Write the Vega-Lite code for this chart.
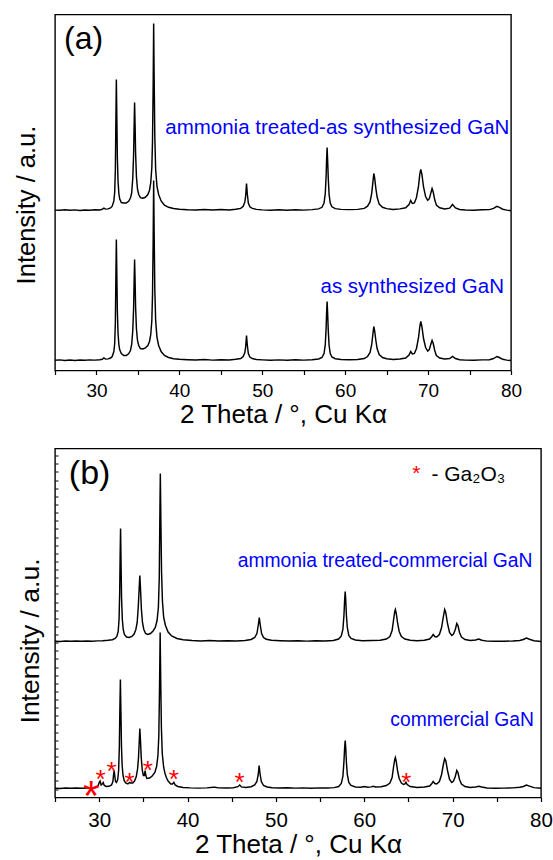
{
"$schema": "https://vega.github.io/schema/vega-lite/v6.json",
"autosize": {"type": "pad"},
"padding": {"left": 13, "top": 13.5, "right": 5, "bottom": 2},
"background": "white",
"bounds": "flush",
"spacing": 78,
"config": {"view": {"stroke": "black", "strokeWidth": 1.4}, "font": "Liberation Sans", "text": {"font": "Liberation Sans"}},
"datasets": {
"a": [
{"s":"as","x":25.0,"y":10.2},{"s":"as","x":25.6,"y":10.6},{"s":"as","x":26.2,"y":10.1},{"s":"as","x":26.8,"y":10.5},{"s":"as","x":27.4,"y":10.0},{"s":"as","x":28.0,"y":10.4},{"s":"as","x":28.6,"y":10.2},{"s":"as","x":29.2,"y":10.6},{"s":"as","x":29.8,"y":10.4},{"s":"as","x":30.4,"y":10.8},{"s":"as","x":30.7,"y":11.2},{"s":"as","x":30.9,"y":12.5},{"s":"as","x":31.1,"y":11.4},{"s":"as","x":31.4,"y":11.6},{"s":"as","x":31.7,"y":12.5},{"s":"as","x":31.9,"y":14},{"s":"as","x":32.1,"y":19},{"s":"as","x":32.2,"y":27},{"s":"as","x":32.28,"y":48},{"s":"as","x":32.34,"y":92},{"s":"as","x":32.4,"y":131},{"s":"as","x":32.46,"y":96},{"s":"as","x":32.52,"y":60},{"s":"as","x":32.6,"y":38},{"s":"as","x":32.7,"y":26},{"s":"as","x":32.8,"y":21},{"s":"as","x":33.0,"y":17},{"s":"as","x":33.3,"y":15},{"s":"as","x":33.6,"y":15},{"s":"as","x":33.9,"y":17},{"s":"as","x":34.1,"y":20},{"s":"as","x":34.25,"y":26},{"s":"as","x":34.38,"y":40},{"s":"as","x":34.48,"y":62},{"s":"as","x":34.54,"y":88},{"s":"as","x":34.6,"y":111},{"s":"as","x":34.66,"y":90},{"s":"as","x":34.72,"y":64},{"s":"as","x":34.82,"y":42},{"s":"as","x":34.95,"y":30},{"s":"as","x":35.1,"y":25},{"s":"as","x":35.3,"y":22},{"s":"as","x":35.6,"y":21.5},{"s":"as","x":35.9,"y":22.5},{"s":"as","x":36.2,"y":25},{"s":"as","x":36.4,"y":29},{"s":"as","x":36.55,"y":36},{"s":"as","x":36.68,"y":50},{"s":"as","x":36.76,"y":75},{"s":"as","x":36.84,"y":130},{"s":"as","x":36.9,"y":190},{"s":"as","x":36.96,"y":138},{"s":"as","x":37.04,"y":80},{"s":"as","x":37.14,"y":50},{"s":"as","x":37.3,"y":33},{"s":"as","x":37.5,"y":25},{"s":"as","x":37.8,"y":19},{"s":"as","x":38.2,"y":15},{"s":"as","x":38.7,"y":13},{"s":"as","x":39.3,"y":11.8},{"s":"as","x":40.0,"y":11.2},{"s":"as","x":41.0,"y":10.8},{"s":"as","x":42.0,"y":10.5},{"s":"as","x":43.0,"y":10.9},{"s":"as","x":44.0,"y":10.4},{"s":"as","x":45.0,"y":10.8},{"s":"as","x":46.0,"y":10.6},{"s":"as","x":46.8,"y":11.2},{"s":"as","x":47.4,"y":12},{"s":"as","x":47.7,"y":14},{"s":"as","x":47.9,"y":18},{"s":"as","x":48.0,"y":24},{"s":"as","x":48.1,"y":35},{"s":"as","x":48.2,"y":25},{"s":"as","x":48.32,"y":17},{"s":"as","x":48.5,"y":13.5},{"s":"as","x":48.8,"y":12},{"s":"as","x":49.3,"y":11},{"s":"as","x":50.0,"y":10.6},{"s":"as","x":51.0,"y":10.2},{"s":"as","x":52.0,"y":10.6},{"s":"as","x":53.0,"y":10.3},{"s":"as","x":54.0,"y":10.7},{"s":"as","x":55.0,"y":10.4},{"s":"as","x":56.0,"y":10.8},{"s":"as","x":56.8,"y":11.5},{"s":"as","x":57.2,"y":13},{"s":"as","x":57.45,"y":17},{"s":"as","x":57.6,"y":26},{"s":"as","x":57.7,"y":42},{"s":"as","x":57.76,"y":58},{"s":"as","x":57.82,"y":69},{"s":"as","x":57.88,"y":58},{"s":"as","x":57.96,"y":40},{"s":"as","x":58.06,"y":25},{"s":"as","x":58.2,"y":17},{"s":"as","x":58.4,"y":13.5},{"s":"as","x":58.8,"y":11.8},{"s":"as","x":59.5,"y":11},{"s":"as","x":60.5,"y":10.8},{"s":"as","x":61.5,"y":11},{"s":"as","x":62.3,"y":12},{"s":"as","x":62.7,"y":14},{"s":"as","x":63.0,"y":18},{"s":"as","x":63.2,"y":26},{"s":"as","x":63.35,"y":37},{"s":"as","x":63.45,"y":44},{"s":"as","x":63.55,"y":40},{"s":"as","x":63.7,"y":30},{"s":"as","x":63.85,"y":22},{"s":"as","x":64.1,"y":16},{"s":"as","x":64.5,"y":13},{"s":"as","x":65.0,"y":11.8},{"s":"as","x":65.8,"y":11},{"s":"as","x":66.6,"y":11.5},{"s":"as","x":67.3,"y":12.5},{"s":"as","x":67.7,"y":15.5},{"s":"as","x":67.9,"y":19},{"s":"as","x":68.1,"y":16.5},{"s":"as","x":68.35,"y":17},{"s":"as","x":68.6,"y":22},{"s":"as","x":68.85,"y":33},{"s":"as","x":69.0,"y":44},{"s":"as","x":69.12,"y":49},{"s":"as","x":69.25,"y":44},{"s":"as","x":69.45,"y":32},{"s":"as","x":69.7,"y":23},{"s":"as","x":69.95,"y":19.5},{"s":"as","x":70.15,"y":21},{"s":"as","x":70.32,"y":26},{"s":"as","x":70.48,"y":30},{"s":"as","x":70.62,"y":27},{"s":"as","x":70.8,"y":20},{"s":"as","x":71.0,"y":15},{"s":"as","x":71.4,"y":12.5},{"s":"as","x":72.0,"y":11.5},{"s":"as","x":72.6,"y":12},{"s":"as","x":72.95,"y":14},{"s":"as","x":73.3,"y":12},{"s":"as","x":73.8,"y":10.8},{"s":"as","x":74.5,"y":10.4},{"s":"as","x":75.5,"y":10.2},{"s":"as","x":76.5,"y":10.6},{"s":"as","x":77.4,"y":10.8},{"s":"as","x":77.9,"y":12},{"s":"as","x":78.3,"y":14},{"s":"as","x":78.6,"y":13},{"s":"as","x":79.0,"y":11.2},{"s":"as","x":79.5,"y":10.4},{"s":"as","x":80.0,"y":10.0},
{"s":"tr","x":25.0,"y":160.4},{"s":"tr","x":25.6,"y":160.3},{"s":"tr","x":26.2,"y":160.7},{"s":"tr","x":26.8,"y":160.2},{"s":"tr","x":27.4,"y":160.6},{"s":"tr","x":28.0,"y":160.1},{"s":"tr","x":28.6,"y":160.5},{"s":"tr","x":29.2,"y":160.3},{"s":"tr","x":29.8,"y":160.7},{"s":"tr","x":30.4,"y":160.6},{"s":"tr","x":30.7,"y":161.2},{"s":"tr","x":30.9,"y":162.3},{"s":"tr","x":31.1,"y":161.4},{"s":"tr","x":31.4,"y":161.6},{"s":"tr","x":31.7,"y":162.6},{"s":"tr","x":31.9,"y":164.3},{"s":"tr","x":32.1,"y":169.6},{"s":"tr","x":32.2,"y":178.2},{"s":"tr","x":32.28,"y":200.7},{"s":"tr","x":32.34,"y":247.7},{"s":"tr","x":32.4,"y":291},{"s":"tr","x":32.46,"y":252},{"s":"tr","x":32.52,"y":213.5},{"s":"tr","x":32.6,"y":190},{"s":"tr","x":32.7,"y":177},{"s":"tr","x":32.8,"y":171.8},{"s":"tr","x":33.0,"y":168},{"s":"tr","x":33.3,"y":167.5},{"s":"tr","x":33.6,"y":167.5},{"s":"tr","x":33.9,"y":169.5},{"s":"tr","x":34.1,"y":172.5},{"s":"tr","x":34.25,"y":177.5},{"s":"tr","x":34.38,"y":192.5},{"s":"tr","x":34.48,"y":216},{"s":"tr","x":34.54,"y":243.6},{"s":"tr","x":34.6,"y":268},{"s":"tr","x":34.66,"y":245.6},{"s":"tr","x":34.72,"y":217.8},{"s":"tr","x":34.82,"y":194},{"s":"tr","x":34.95,"y":181.4},{"s":"tr","x":35.1,"y":176},{"s":"tr","x":35.3,"y":172.8},{"s":"tr","x":35.6,"y":172.3},{"s":"tr","x":35.9,"y":173.2},{"s":"tr","x":36.2,"y":176},{"s":"tr","x":36.4,"y":180.3},{"s":"tr","x":36.55,"y":188},{"s":"tr","x":36.68,"y":203},{"s":"tr","x":36.76,"y":229},{"s":"tr","x":36.84,"y":285},{"s":"tr","x":36.9,"y":347},{"s":"tr","x":36.96,"y":293},{"s":"tr","x":37.04,"y":233},{"s":"tr","x":37.14,"y":201},{"s":"tr","x":37.3,"y":184},{"s":"tr","x":37.5,"y":176},{"s":"tr","x":37.8,"y":169.6},{"s":"tr","x":38.2,"y":165.4},{"s":"tr","x":38.7,"y":163.2},{"s":"tr","x":39.3,"y":162},{"s":"tr","x":40.0,"y":161.3},{"s":"tr","x":41.0,"y":160.8},{"s":"tr","x":42.0,"y":160.6},{"s":"tr","x":43.0,"y":160.9},{"s":"tr","x":44.0,"y":160.5},{"s":"tr","x":45.0,"y":160.9},{"s":"tr","x":46.0,"y":160.6},{"s":"tr","x":46.8,"y":161.3},{"s":"tr","x":47.4,"y":162.1},{"s":"tr","x":47.7,"y":164.3},{"s":"tr","x":47.9,"y":168.6},{"s":"tr","x":48.0,"y":175},{"s":"tr","x":48.1,"y":187},{"s":"tr","x":48.2,"y":176.1},{"s":"tr","x":48.32,"y":167.5},{"s":"tr","x":48.5,"y":163.7},{"s":"tr","x":48.8,"y":162.1},{"s":"tr","x":49.3,"y":161.1},{"s":"tr","x":50.0,"y":160.6},{"s":"tr","x":51.0,"y":160.3},{"s":"tr","x":52.0,"y":160.7},{"s":"tr","x":53.0,"y":160.3},{"s":"tr","x":54.0,"y":160.8},{"s":"tr","x":55.0,"y":160.4},{"s":"tr","x":56.0,"y":160.9},{"s":"tr","x":56.8,"y":161.6},{"s":"tr","x":57.2,"y":163.2},{"s":"tr","x":57.45,"y":167.5},{"s":"tr","x":57.6,"y":177.1},{"s":"tr","x":57.7,"y":194.2},{"s":"tr","x":57.76,"y":211.3},{"s":"tr","x":57.82,"y":223},{"s":"tr","x":57.88,"y":211.3},{"s":"tr","x":57.96,"y":192.1},{"s":"tr","x":58.06,"y":176},{"s":"tr","x":58.2,"y":167.5},{"s":"tr","x":58.4,"y":163.7},{"s":"tr","x":58.8,"y":161.9},{"s":"tr","x":59.5,"y":161.1},{"s":"tr","x":60.5,"y":160.9},{"s":"tr","x":61.5,"y":161.1},{"s":"tr","x":62.3,"y":162.1},{"s":"tr","x":62.7,"y":164.3},{"s":"tr","x":63.0,"y":168.6},{"s":"tr","x":63.2,"y":177.1},{"s":"tr","x":63.35,"y":188.9},{"s":"tr","x":63.45,"y":197},{"s":"tr","x":63.55,"y":192.8},{"s":"tr","x":63.7,"y":182},{"s":"tr","x":63.85,"y":173.5},{"s":"tr","x":64.1,"y":166.4},{"s":"tr","x":64.5,"y":163.2},{"s":"tr","x":65.0,"y":161.9},{"s":"tr","x":65.8,"y":161.1},{"s":"tr","x":66.6,"y":161.6},{"s":"tr","x":67.3,"y":162.7},{"s":"tr","x":67.7,"y":166},{"s":"tr","x":67.9,"y":170},{"s":"tr","x":68.1,"y":167},{"s":"tr","x":68.35,"y":167.5},{"s":"tr","x":68.6,"y":173},{"s":"tr","x":68.85,"y":184.6},{"s":"tr","x":69.0,"y":196.4},{"s":"tr","x":69.12,"y":201},{"s":"tr","x":69.25,"y":196.4},{"s":"tr","x":69.45,"y":183.5},{"s":"tr","x":69.7,"y":173.9},{"s":"tr","x":69.95,"y":170.2},{"s":"tr","x":70.15,"y":171.8},{"s":"tr","x":70.32,"y":177.1},{"s":"tr","x":70.48,"y":182},{"s":"tr","x":70.62,"y":178.5},{"s":"tr","x":70.8,"y":170.7},{"s":"tr","x":71.0,"y":165.4},{"s":"tr","x":71.4,"y":162.7},{"s":"tr","x":72.0,"y":161.6},{"s":"tr","x":72.6,"y":162.4},{"s":"tr","x":72.95,"y":166},{"s":"tr","x":73.3,"y":162.6},{"s":"tr","x":73.8,"y":161},{"s":"tr","x":74.5,"y":160.5},{"s":"tr","x":75.5,"y":160.2},{"s":"tr","x":76.5,"y":160.7},{"s":"tr","x":77.4,"y":160.9},{"s":"tr","x":77.9,"y":162.1},{"s":"tr","x":78.3,"y":164.2},{"s":"tr","x":78.6,"y":163.2},{"s":"tr","x":79.0,"y":161.3},{"s":"tr","x":79.5,"y":160.4},{"s":"tr","x":80.0,"y":159.8}
],
"b": [
{"s":"tr","x":25.0,"y":156.3},{"s":"tr","x":25.6,"y":156.1},{"s":"tr","x":26.2,"y":156.4},{"s":"tr","x":26.8,"y":156.2},{"s":"tr","x":27.4,"y":156.5},{"s":"tr","x":28.0,"y":156.2},{"s":"tr","x":28.6,"y":156.4},{"s":"tr","x":29.2,"y":156.3},{"s":"tr","x":29.8,"y":156.6},{"s":"tr","x":30.4,"y":156.8},{"s":"tr","x":31.0,"y":157.2},{"s":"tr","x":31.5,"y":157.8},{"s":"tr","x":31.8,"y":159},{"s":"tr","x":32.0,"y":161},{"s":"tr","x":32.15,"y":166},{"s":"tr","x":32.25,"y":178},{"s":"tr","x":32.32,"y":205},{"s":"tr","x":32.37,"y":240},{"s":"tr","x":32.42,"y":269},{"s":"tr","x":32.47,"y":238},{"s":"tr","x":32.53,"y":200},{"s":"tr","x":32.62,"y":178},{"s":"tr","x":32.72,"y":168},{"s":"tr","x":32.85,"y":163},{"s":"tr","x":33.1,"y":160.5},{"s":"tr","x":33.4,"y":160},{"s":"tr","x":33.7,"y":161},{"s":"tr","x":33.95,"y":163.5},{"s":"tr","x":34.15,"y":168},{"s":"tr","x":34.3,"y":175},{"s":"tr","x":34.42,"y":190},{"s":"tr","x":34.52,"y":208},{"s":"tr","x":34.6,"y":222},{"s":"tr","x":34.68,"y":208},{"s":"tr","x":34.78,"y":188},{"s":"tr","x":34.9,"y":175},{"s":"tr","x":35.05,"y":168},{"s":"tr","x":35.25,"y":164},{"s":"tr","x":35.5,"y":163},{"s":"tr","x":35.8,"y":164},{"s":"tr","x":36.1,"y":166.5},{"s":"tr","x":36.35,"y":170},{"s":"tr","x":36.55,"y":177},{"s":"tr","x":36.7,"y":190},{"s":"tr","x":36.8,"y":220},{"s":"tr","x":36.86,"y":275},{"s":"tr","x":36.92,"y":324},{"s":"tr","x":36.98,"y":278},{"s":"tr","x":37.06,"y":225},{"s":"tr","x":37.16,"y":196},{"s":"tr","x":37.3,"y":180},{"s":"tr","x":37.5,"y":172},{"s":"tr","x":37.8,"y":165.5},{"s":"tr","x":38.2,"y":161.5},{"s":"tr","x":38.8,"y":159},{"s":"tr","x":39.5,"y":157.8},{"s":"tr","x":40.5,"y":157},{"s":"tr","x":41.5,"y":156.6},{"s":"tr","x":42.5,"y":156.9},{"s":"tr","x":43.5,"y":156.5},{"s":"tr","x":44.5,"y":156.8},{"s":"tr","x":45.5,"y":156.6},{"s":"tr","x":46.5,"y":157},{"s":"tr","x":47.2,"y":158},{"s":"tr","x":47.6,"y":160},{"s":"tr","x":47.85,"y":164},{"s":"tr","x":48.0,"y":172},{"s":"tr","x":48.12,"y":180},{"s":"tr","x":48.22,"y":173},{"s":"tr","x":48.38,"y":164},{"s":"tr","x":48.6,"y":160},{"s":"tr","x":48.9,"y":158.3},{"s":"tr","x":49.5,"y":157.2},{"s":"tr","x":50.5,"y":156.8},{"s":"tr","x":51.5,"y":156.5},{"s":"tr","x":52.5,"y":156.8},{"s":"tr","x":53.5,"y":156.4},{"s":"tr","x":54.5,"y":156.7},{"s":"tr","x":55.5,"y":156.5},{"s":"tr","x":56.5,"y":157},{"s":"tr","x":57.1,"y":158.5},{"s":"tr","x":57.4,"y":161.5},{"s":"tr","x":57.58,"y":168},{"s":"tr","x":57.7,"y":182},{"s":"tr","x":57.78,"y":198},{"s":"tr","x":57.84,"y":206},{"s":"tr","x":57.9,"y":198},{"s":"tr","x":57.98,"y":182},{"s":"tr","x":58.08,"y":170},{"s":"tr","x":58.25,"y":162},{"s":"tr","x":58.5,"y":159},{"s":"tr","x":59.0,"y":157.5},{"s":"tr","x":59.8,"y":156.8},{"s":"tr","x":60.8,"y":157},{"s":"tr","x":61.8,"y":157.2},{"s":"tr","x":62.5,"y":158.5},{"s":"tr","x":62.9,"y":161},{"s":"tr","x":63.15,"y":167},{"s":"tr","x":63.32,"y":178},{"s":"tr","x":63.45,"y":186},{"s":"tr","x":63.52,"y":188},{"s":"tr","x":63.62,"y":184},{"s":"tr","x":63.78,"y":174},{"s":"tr","x":63.95,"y":166},{"s":"tr","x":64.2,"y":161},{"s":"tr","x":64.6,"y":158.5},{"s":"tr","x":65.2,"y":157.2},{"s":"tr","x":66.0,"y":156.8},{"s":"tr","x":66.8,"y":157.3},{"s":"tr","x":67.4,"y":158.5},{"s":"tr","x":67.65,"y":161},{"s":"tr","x":67.8,"y":163},{"s":"tr","x":67.98,"y":161},{"s":"tr","x":68.2,"y":160.5},{"s":"tr","x":68.5,"y":163},{"s":"tr","x":68.75,"y":170},{"s":"tr","x":68.95,"y":181},{"s":"tr","x":69.1,"y":188},{"s":"tr","x":69.22,"y":185},{"s":"tr","x":69.42,"y":174},{"s":"tr","x":69.65,"y":165},{"s":"tr","x":69.9,"y":162},{"s":"tr","x":70.1,"y":163.5},{"s":"tr","x":70.3,"y":168},{"s":"tr","x":70.47,"y":174},{"s":"tr","x":70.6,"y":172},{"s":"tr","x":70.78,"y":165},{"s":"tr","x":71.0,"y":160.5},{"s":"tr","x":71.4,"y":158},{"s":"tr","x":72.0,"y":157},{"s":"tr","x":72.6,"y":157.5},{"s":"tr","x":72.95,"y":158.5},{"s":"tr","x":73.3,"y":157.3},{"s":"tr","x":73.9,"y":156.4},{"s":"tr","x":74.8,"y":156.2},{"s":"tr","x":75.8,"y":156.3},{"s":"tr","x":76.8,"y":156.5},{"s":"tr","x":77.6,"y":157},{"s":"tr","x":78.0,"y":158},{"s":"tr","x":78.35,"y":159.5},{"s":"tr","x":78.7,"y":158.3},{"s":"tr","x":79.2,"y":156.8},{"s":"tr","x":80.0,"y":156.0},
{"s":"co","x":25.0,"y":9.3},{"s":"co","x":25.6,"y":9.1},{"s":"co","x":26.2,"y":9.4},{"s":"co","x":26.8,"y":9.2},{"s":"co","x":27.4,"y":9.5},{"s":"co","x":28.0,"y":9.2},{"s":"co","x":28.6,"y":9.4},{"s":"co","x":29.2,"y":9.6},{"s":"co","x":29.6,"y":9.9},{"s":"co","x":29.85,"y":11},{"s":"co","x":30.0,"y":15},{"s":"co","x":30.1,"y":16.5},{"s":"co","x":30.22,"y":12.5},{"s":"co","x":30.35,"y":13.5},{"s":"co","x":30.45,"y":15},{"s":"co","x":30.58,"y":12},{"s":"co","x":30.8,"y":11},{"s":"co","x":31.1,"y":11.2},{"s":"co","x":31.4,"y":12.5},{"s":"co","x":31.55,"y":16},{"s":"co","x":31.64,"y":24},{"s":"co","x":31.7,"y":26.8},{"s":"co","x":31.76,"y":22},{"s":"co","x":31.85,"y":16},{"s":"co","x":31.95,"y":15},{"s":"co","x":32.1,"y":18},{"s":"co","x":32.2,"y":27},{"s":"co","x":32.28,"y":50},{"s":"co","x":32.34,"y":88},{"s":"co","x":32.4,"y":118},{"s":"co","x":32.46,"y":86},{"s":"co","x":32.52,"y":52},{"s":"co","x":32.6,"y":32},{"s":"co","x":32.7,"y":22},{"s":"co","x":32.82,"y":17},{"s":"co","x":33.0,"y":14.5},{"s":"co","x":33.25,"y":13.5},{"s":"co","x":33.45,"y":15},{"s":"co","x":33.55,"y":14.5},{"s":"co","x":33.8,"y":14.5},{"s":"co","x":34.0,"y":16.5},{"s":"co","x":34.2,"y":21},{"s":"co","x":34.35,"y":29},{"s":"co","x":34.45,"y":40},{"s":"co","x":34.53,"y":55},{"s":"co","x":34.6,"y":69},{"s":"co","x":34.67,"y":58},{"s":"co","x":34.76,"y":40},{"s":"co","x":34.88,"y":27},{"s":"co","x":35.0,"y":22},{"s":"co","x":35.1,"y":22},{"s":"co","x":35.2,"y":26.8},{"s":"co","x":35.28,"y":22},{"s":"co","x":35.4,"y":19},{"s":"co","x":35.7,"y":19.5},{"s":"co","x":36.0,"y":21.5},{"s":"co","x":36.3,"y":25},{"s":"co","x":36.5,"y":31},{"s":"co","x":36.65,"y":42},{"s":"co","x":36.75,"y":62},{"s":"co","x":36.83,"y":110},{"s":"co","x":36.9,"y":165},{"s":"co","x":36.96,"y":120},{"s":"co","x":37.04,"y":70},{"s":"co","x":37.14,"y":44},{"s":"co","x":37.3,"y":30},{"s":"co","x":37.45,"y":24},{"s":"co","x":37.6,"y":20},{"s":"co","x":37.8,"y":16.5},{"s":"co","x":38.1,"y":13.5},{"s":"co","x":38.3,"y":13.5},{"s":"co","x":38.45,"y":15.2},{"s":"co","x":38.6,"y":12.5},{"s":"co","x":38.9,"y":11},{"s":"co","x":39.5,"y":10},{"s":"co","x":40.3,"y":9.6},{"s":"co","x":41.2,"y":9.4},{"s":"co","x":42.2,"y":9.6},{"s":"co","x":42.9,"y":10.2},{"s":"co","x":43.1,"y":10.3},{"s":"co","x":43.5,"y":9.6},{"s":"co","x":44.4,"y":9.5},{"s":"co","x":45.2,"y":9.8},{"s":"co","x":45.7,"y":10.8},{"s":"co","x":45.9,"y":12.5},{"s":"co","x":46.1,"y":10.6},{"s":"co","x":46.6,"y":10},{"s":"co","x":47.2,"y":10.8},{"s":"co","x":47.6,"y":12.5},{"s":"co","x":47.85,"y":16},{"s":"co","x":48.0,"y":23},{"s":"co","x":48.1,"y":32},{"s":"co","x":48.2,"y":24},{"s":"co","x":48.35,"y":16},{"s":"co","x":48.6,"y":12},{"s":"co","x":49.0,"y":10.5},{"s":"co","x":49.6,"y":9.8},{"s":"co","x":50.4,"y":9.5},{"s":"co","x":51.3,"y":9.7},{"s":"co","x":52.2,"y":9.4},{"s":"co","x":53.1,"y":9.6},{"s":"co","x":54.0,"y":9.3},{"s":"co","x":54.9,"y":9.6},{"s":"co","x":55.8,"y":9.5},{"s":"co","x":56.6,"y":9.9},{"s":"co","x":57.1,"y":11},{"s":"co","x":57.4,"y":14},{"s":"co","x":57.58,"y":21},{"s":"co","x":57.7,"y":36},{"s":"co","x":57.78,"y":50},{"s":"co","x":57.84,"y":57},{"s":"co","x":57.9,"y":50},{"s":"co","x":57.98,"y":35},{"s":"co","x":58.08,"y":23},{"s":"co","x":58.25,"y":15},{"s":"co","x":58.5,"y":12},{"s":"co","x":59.0,"y":10.5},{"s":"co","x":59.6,"y":10.2},{"s":"co","x":60.0,"y":11},{"s":"co","x":60.4,"y":10.3},{"s":"co","x":60.8,"y":10.6},{"s":"co","x":61.0,"y":11.2},{"s":"co","x":61.3,"y":10.5},{"s":"co","x":61.9,"y":10.8},{"s":"co","x":62.5,"y":12},{"s":"co","x":62.9,"y":14.5},{"s":"co","x":63.15,"y":20},{"s":"co","x":63.32,"y":31},{"s":"co","x":63.45,"y":38},{"s":"co","x":63.52,"y":40},{"s":"co","x":63.62,"y":36},{"s":"co","x":63.78,"y":26},{"s":"co","x":63.95,"y":19},{"s":"co","x":64.2,"y":14.5},{"s":"co","x":64.45,"y":13},{"s":"co","x":64.6,"y":13.5},{"s":"co","x":64.72,"y":15.2},{"s":"co","x":64.85,"y":13},{"s":"co","x":65.2,"y":11},{"s":"co","x":66.0,"y":10},{"s":"co","x":66.8,"y":10.5},{"s":"co","x":67.4,"y":11.5},{"s":"co","x":67.65,"y":14},{"s":"co","x":67.8,"y":16},{"s":"co","x":67.98,"y":14},{"s":"co","x":68.2,"y":13.5},{"s":"co","x":68.5,"y":16},{"s":"co","x":68.75,"y":23},{"s":"co","x":68.95,"y":33},{"s":"co","x":69.1,"y":39},{"s":"co","x":69.22,"y":37},{"s":"co","x":69.42,"y":27},{"s":"co","x":69.65,"y":18},{"s":"co","x":69.9,"y":15},{"s":"co","x":70.1,"y":16.5},{"s":"co","x":70.3,"y":21},{"s":"co","x":70.47,"y":27},{"s":"co","x":70.6,"y":25},{"s":"co","x":70.78,"y":18},{"s":"co","x":71.0,"y":13.5},{"s":"co","x":71.4,"y":11},{"s":"co","x":72.0,"y":10},{"s":"co","x":72.6,"y":10.5},{"s":"co","x":72.95,"y":11.2},{"s":"co","x":73.3,"y":10.5},{"s":"co","x":73.9,"y":9.5},{"s":"co","x":74.8,"y":9.3},{"s":"co","x":75.8,"y":9.4},{"s":"co","x":76.8,"y":9.6},{"s":"co","x":77.6,"y":10.2},{"s":"co","x":78.0,"y":11},{"s":"co","x":78.35,"y":12.5},{"s":"co","x":78.7,"y":11.4},{"s":"co","x":79.2,"y":9.9},{"s":"co","x":80.0,"y":9.2}
]
},
"vconcat": [
{
"width": 456, "height": 356,
"encoding": {
  "x": {"field": "x", "type": "quantitative", "scale": {"domain": [25, 80], "nice": false, "zero": false},
   "axis": {"title": "2 Theta / °, Cu Kα", "values": [25,30,35,40,45,50,55,60,65,70,75,80], "labelExpr": "datum.value % 10 === 0 ? datum.label : ''", "domain": false, "grid": false, "ticks": true, "tickSize": 4, "tickColor": "black", "tickWidth": 1.2, "labelFontSize": 19, "labelColor": "black", "labelFont": "Liberation Sans", "labelPadding": 7, "labelFlush": false, "labelOverlap": false, "titleFont": "Liberation Sans", "titleFontSize": 26, "titleFontWeight": "normal", "titleColor": "black", "titleY": 52, "titleBaseline": "alphabetic"}},
  "y": {"field": "y", "type": "quantitative", "scale": {"domain": [0, 356], "nice": false, "zero": false},
   "axis": {"title": "Intensity / a.u.", "labels": false, "ticks": false, "domain": false, "grid": false, "titleFont": "Liberation Sans", "titleFontSize": 25.5, "titleFontWeight": "normal", "titleColor": "black", "titleAngle": -90, "titleX": -21, "titleY": 190, "titleAlign": "center", "titleBaseline": "alphabetic"}}
},
"layer": [
{"data": {"name": "a"},
 "mark": {"type": "line", "color": "black", "strokeWidth": 1.45},
 "encoding": {"detail": {"field": "s"}}},
{"data": {"values": [{"t": "(a)", "x": 26.1, "y": 322}]},
 "mark": {"type": "text", "align": "left", "baseline": "alphabetic", "fontSize": 32, "color": "black", "font": "Liberation Sans"},
 "encoding": {"text": {"field": "t"}}},
{"data": {"values": [{"t": "ammonia treated-as synthesized GaN", "x": 79.8, "y": 236.5}, {"t": "as synthesized GaN", "x": 79.15, "y": 77.2}]},
 "mark": {"type": "text", "align": "right", "baseline": "alphabetic", "fontSize": 20.5, "color": "#0000FF", "font": "Liberation Sans"},
 "encoding": {"text": {"field": "t"}}}
]
},
{
"width": 486, "height": 349,
"encoding": {
  "x": {"field": "x", "type": "quantitative", "scale": {"domain": [25, 80], "nice": false, "zero": false},
   "axis": {"title": "2 Theta / °, Cu Kα", "values": [25,30,35,40,45,50,55,60,65,70,75,80], "labelExpr": "datum.value % 10 === 0 ? datum.label : ''", "domain": false, "grid": false, "ticks": true, "tickSize": 4, "tickColor": "black", "tickWidth": 1.2, "labelFontSize": 20.5, "labelColor": "black", "labelFont": "Liberation Sans", "labelPadding": 9, "labelFlush": false, "labelOverlap": false, "titleFont": "Liberation Sans", "titleFontSize": 26, "titleFontWeight": "normal", "titleColor": "black", "titleY": 55, "titleBaseline": "alphabetic"}},
  "y": {"field": "y", "type": "quantitative", "scale": {"domain": [0, 349], "nice": false, "zero": false},
   "axis": {"title": "Intensity / a.u.", "labels": false, "ticks": true, "offset": -3, "tickSize": 3, "tickColor": "black", "tickWidth": 1, "values": [341.8,333.7,325.5,317.4,309.3,301.2,293.0,284.9,276.8,268.6,260.5,252.4,244.2,236.1,228.0,219.9,211.7,203.6,195.5,187.3,179.2,171.1,163.0,154.8,146.7,138.6,130.4,122.3,114.2,106.1,97.9,89.8,81.7,73.5,65.4,57.3,49.1,41.0,32.9,24.8,16.6,8.5], "domain": false, "grid": false, "titleFont": "Liberation Sans", "titleFontSize": 26.5, "titleFontWeight": "normal", "titleColor": "black", "titleAngle": -90, "titleX": -20, "titleY": 192, "titleAlign": "center", "titleBaseline": "alphabetic"}}
},
"layer": [
{"data": {"name": "b"},
 "mark": {"type": "line", "color": "black", "strokeWidth": 1.45},
 "encoding": {"detail": {"field": "s"}}},
{"data": {"values": [{"t": "(b)", "x": 26.57, "y": 314}]},
 "mark": {"type": "text", "align": "left", "baseline": "alphabetic", "fontSize": 34, "color": "black", "font": "Liberation Sans"},
 "encoding": {"text": {"field": "t"}}},
{"data": {"values": [{"t": "ammonia treated-commercial GaN", "x": 79.03, "y": 230.2}, {"t": "commercial GaN", "x": 79.2, "y": 71.2}]},
 "mark": {"type": "text", "align": "right", "baseline": "alphabetic", "fontSize": 19.3, "color": "#0000FF", "font": "Liberation Sans"},
 "encoding": {"text": {"field": "t"}}},
{"data": {"values": [{"t": "- Ga₂O₃", "x": 67.6, "y": 316.3}]},
 "mark": {"type": "text", "align": "left", "baseline": "alphabetic", "fontSize": 21, "color": "black", "font": "Liberation Sans"},
 "encoding": {"text": {"field": "t"}}},
{"data": {"values": [{"t": "*", "x": 65.9, "y": 329.7}]},
 "mark": {"type": "text", "align": "center", "baseline": "alphabetic", "fontSize": 21, "dy": 12, "color": "#FF0000", "font": "Liberation Sans"},
 "encoding": {"text": {"field": "t"}}},
{"data": {"values": [{"t": "*", "x": 30.15, "y": 24}, {"t": "*", "x": 31.4, "y": 32.3}, {"t": "*", "x": 33.44, "y": 21.3}, {"t": "*", "x": 35.49, "y": 33}, {"t": "*", "x": 38.46, "y": 24.7}, {"t": "*", "x": 45.9, "y": 21.3}, {"t": "*", "x": 64.77, "y": 21.3}]},
 "mark": {"type": "text", "align": "center", "baseline": "alphabetic", "fontSize": 26, "dy": 14.9, "color": "#FF0000", "font": "Liberation Sans"},
 "encoding": {"text": {"field": "t"}}},
{"data": {"values": [{"t": "*", "x": 29.1, "y": 12}]},
 "mark": {"type": "text", "align": "center", "baseline": "alphabetic", "fontSize": 42, "dy": 24, "color": "#FF0000", "font": "Liberation Sans"},
 "encoding": {"text": {"field": "t"}}}
]
}
]
}
